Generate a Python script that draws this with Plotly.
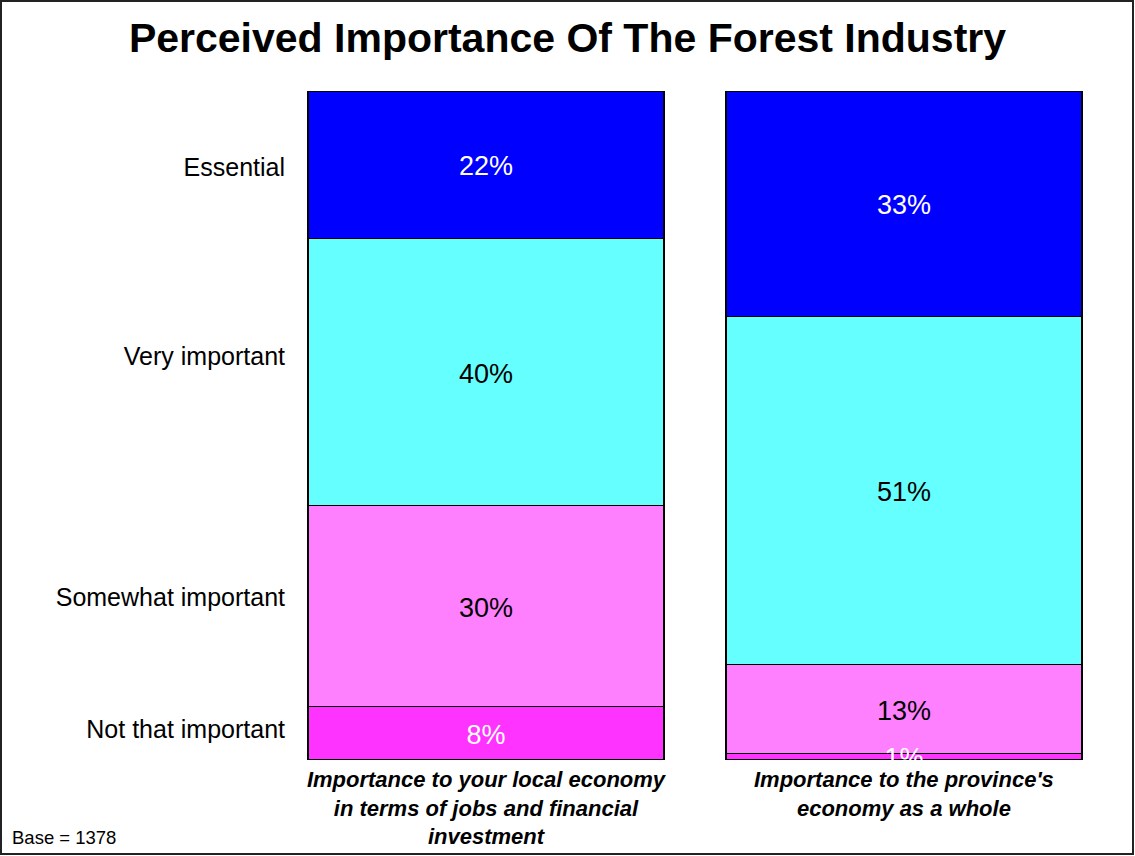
import plotly.graph_objects as go

# ---- data ----
bar_categories = [
    "Importance to your local economy<br>in terms of jobs and financial<br>investment",
    "Importance to the province's<br>economy as a whole",
]
levels = ["Not that important", "Somewhat important", "Very important", "Essential"]
not_that_important = [8, 1]
somewhat_important = [30, 13]
very_important = [40, 51]
essential = [22, 33]
base_note = "Base = 1378"
title_text = "Perceived Importance Of The Forest Industry"

series_values = [not_that_important, somewhat_important, very_important, essential]

# ---- style ----
colors = ["#FF33FF", "#FF80FF", "#66FFFF", "#0000FF"]
text_colors = ["white", "black", "black", "white"]
level_tick_positions = [4.6, 24.4, 60.4, 88.6]
FONT = "Liberation Sans, Arial, sans-serif"

W, H = 1135, 856
ML, MR, MT, MB = 300, 15, 91, 96
pw = W - ML - MR
ph = H - MT - MB
LABEL_SHIFT_PX = 4  # visual centring of value labels (glyph centre vs text box)

fig = go.Figure()
xs = list(range(len(bar_categories)))
for name, vals, col in zip(levels, series_values, colors):
    fig.add_trace(go.Bar(
        x=xs,
        y=vals,
        name=name,
        width=0.852,
        marker=dict(color=col, line=dict(color="black", width=1.3)),
        hoverinfo="skip",
    ))

# value labels drawn on top of all bars (percent-normalised midpoints)
totals = [sum(s[j] for s in series_values) for j in xs]
shift = LABEL_SHIFT_PX / ph * 100
lab_x, lab_y, lab_t, lab_c = [], [], [], []
for k, (vals, tcol) in enumerate(zip(series_values, text_colors)):
    for j in xs:
        below = sum(series_values[i][j] for i in range(k))
        lab_x.append(j)
        lab_y.append((below + vals[j] / 2) / totals[j] * 100 - shift)
        lab_t.append(f"{vals[j]}%")
        lab_c.append(tcol)

fig.add_trace(go.Scatter(
    x=lab_x, y=lab_y, text=lab_t, mode="text",
    textposition="middle center",
    textfont=dict(family=FONT, size=27, color=lab_c),
    cliponaxis=True, hoverinfo="skip", showlegend=False,
))

fig.update_layout(
    width=W, height=H,
    autosize=False,
    barmode="stack",
    barnorm="percent",
    showlegend=False,
    paper_bgcolor="white",
    plot_bgcolor="white",
    margin=dict(l=ML, r=MR, t=MT, b=MB, pad=0, autoexpand=False),
    font=dict(family=FONT, color="black"),
    title=dict(
        text="<b>" + title_text + "</b>",
        x=0.5, xref="container", xanchor="center",
        y=1 - 38 / H, yref="container", yanchor="middle",
        font=dict(size=41, color="black", family=FONT),
    ),
    xaxis=dict(
        range=[-0.445, 1.517],
        tickmode="array",
        tickvals=xs,
        ticktext=["<b><i>" + c + "</i></b>" for c in bar_categories],
        tickfont=dict(size=22, color="black"),
        showgrid=False, zeroline=False, showline=False, ticks="",
        ticklabelstandoff=4,
        automargin=False,
        fixedrange=True,
    ),
    yaxis=dict(
        range=[0, 100],
        tickmode="array",
        tickvals=level_tick_positions,
        ticktext=levels,
        tickfont=dict(size=25, color="black"),
        showgrid=False, zeroline=False, showline=False, ticks="",
        ticklabelstandoff=14,
        automargin=False,
        fixedrange=True,
    ),
)

# figure border
x0 = (1 - ML) / pw
x1 = (W - 2 - ML) / pw
y0 = -(MB - 2) / ph
y1 = 1 + (MT - 1) / ph
fig.add_shape(type="rect", xref="paper", yref="paper",
              x0=x0, x1=x1, y0=y0, y1=y1,
              line=dict(color="#222222", width=2), fillcolor="rgba(0,0,0,0)", layer="above")

fig.add_annotation(
    text=base_note, showarrow=False,
    xref="paper", yref="paper",
    x=(10 - ML) / pw, xanchor="left",
    y=-(838 - (H - MB)) / ph, yanchor="middle",
    font=dict(size=18.5, color="black"),
)

fig.write_html("out.html", config={"displayModeBar": False},
               post_script="document.body.style.margin='0';")
